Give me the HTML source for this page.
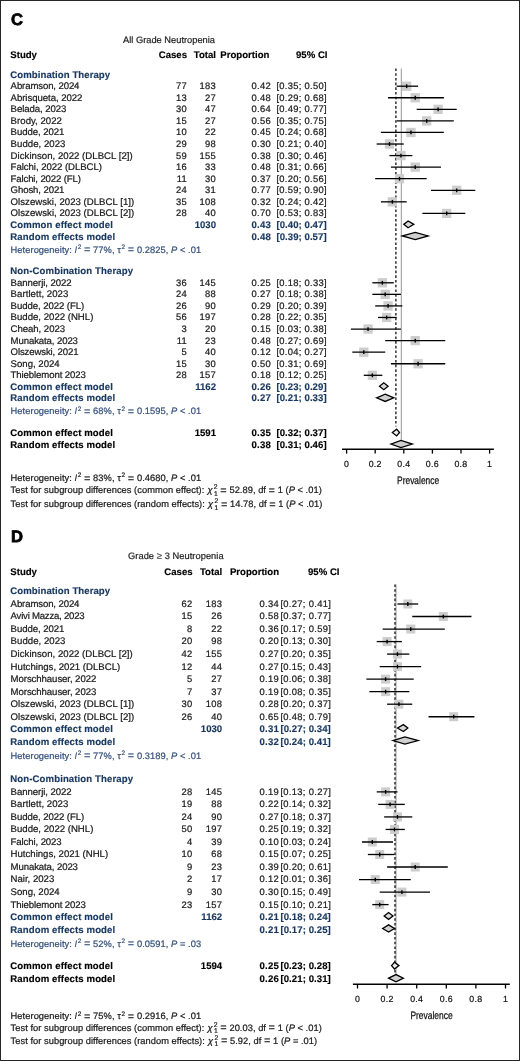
<!DOCTYPE html>
<html><head><meta charset="utf-8"><title>Forest plot</title>
<style>
html,body{margin:0;padding:0;background:#fff;}
body{width:520px;height:1061px;overflow:hidden;}
svg{display:block;font-family:"Liberation Sans", sans-serif;will-change:transform;text-rendering:geometricPrecision;}
</style></head><body>
<svg width="520" height="1061" viewBox="0 0 520 1061">
<rect x="0" y="0" width="520" height="1061" fill="#fff"/>
<text x="10.90" y="25.40" font-size="16.6" font-weight="bold" fill="#000" stroke="#000" stroke-width="0.75">C</text>
<text x="169" y="42.5" font-size="9.3" text-anchor="middle" fill="#1e1e1e" stroke="#1e1e1e" stroke-width="0.2">All Grade Neutropenia</text>
<text x="10.30" y="57.70" font-size="9.6" font-weight="bold" fill="#000" stroke="#000" stroke-width="0.15">Study</text>
<text x="187.00" y="57.70" font-size="9.6" font-weight="bold" text-anchor="end" fill="#000" stroke="#000" stroke-width="0.15">Cases</text>
<text x="216.00" y="57.70" font-size="9.6" font-weight="bold" text-anchor="end" fill="#000" stroke="#000" stroke-width="0.15">Total</text>
<text x="269.40" y="57.70" font-size="9.6" font-weight="bold" text-anchor="end" fill="#000" stroke="#000" stroke-width="0.15">Proportion</text>
<text x="327.50" y="57.70" font-size="9.6" font-weight="bold" text-anchor="end" fill="#000" stroke="#000" stroke-width="0.15">95% CI</text>
<line x1="401.30" y1="68.50" x2="401.30" y2="440.50" stroke="#8a8a8a" stroke-width="0.9"/>
<line x1="395.90" y1="68.50" x2="395.90" y2="426.50" stroke="#111" stroke-width="1.3" stroke-dasharray="2.6,2.1"/>
<text x="10.30" y="77.64" font-size="9.6" font-weight="bold" fill="#19385f" textLength="99.80" lengthAdjust="spacing" stroke="#19385f" stroke-width="0.15">Combination Therapy</text>
<text x="10.60" y="89.20" font-size="9.6" fill="#1a1a1a" textLength="68.85" lengthAdjust="spacing" stroke="#1a1a1a" stroke-width="0.22">Abramson, 2024</text>
<text x="187.00" y="89.20" font-size="9.4" text-anchor="end" fill="#1a1a1a" letter-spacing="0.3" stroke="#1a1a1a" stroke-width="0.22">77</text>
<text x="216.00" y="89.20" font-size="9.4" text-anchor="end" fill="#1a1a1a" letter-spacing="0.3" stroke="#1a1a1a" stroke-width="0.22">183</text>
<text x="271.00" y="89.20" font-size="9.4" text-anchor="end" fill="#1a1a1a" letter-spacing="0.3" stroke="#1a1a1a" stroke-width="0.22">0.42</text>
<text x="276.40" y="89.20" font-size="9.4" fill="#1a1a1a" textLength="50.2" lengthAdjust="spacing" stroke="#1a1a1a" stroke-width="0.22">[0.35; 0.50]</text>
<rect x="402.01" y="81.55" width="9.30" height="9.30" fill="#cdcdcd"/>
<line x1="396.65" y1="86.20" x2="418.10" y2="86.20" stroke="#000" stroke-width="1.3"/>
<line x1="406.66" y1="84.30" x2="406.66" y2="88.10" stroke="#000" stroke-width="1.4"/>
<text x="10.60" y="100.76" font-size="9.6" fill="#1a1a1a" textLength="71.75" lengthAdjust="spacing" stroke="#1a1a1a" stroke-width="0.22">Abrisqueta, 2022</text>
<text x="187.00" y="100.76" font-size="9.4" text-anchor="end" fill="#1a1a1a" letter-spacing="0.3" stroke="#1a1a1a" stroke-width="0.22">13</text>
<text x="216.00" y="100.76" font-size="9.4" text-anchor="end" fill="#1a1a1a" letter-spacing="0.3" stroke="#1a1a1a" stroke-width="0.22">27</text>
<text x="271.00" y="100.76" font-size="9.4" text-anchor="end" fill="#1a1a1a" letter-spacing="0.3" stroke="#1a1a1a" stroke-width="0.22">0.48</text>
<text x="276.40" y="100.76" font-size="9.4" fill="#1a1a1a" textLength="50.2" lengthAdjust="spacing" stroke="#1a1a1a" stroke-width="0.22">[0.29; 0.68]</text>
<rect x="410.59" y="93.11" width="9.30" height="9.30" fill="#cdcdcd"/>
<line x1="388.07" y1="97.76" x2="443.84" y2="97.76" stroke="#000" stroke-width="1.3"/>
<line x1="415.24" y1="95.86" x2="415.24" y2="99.66" stroke="#000" stroke-width="1.4"/>
<text x="10.60" y="112.33" font-size="9.6" fill="#1a1a1a" textLength="55.85" lengthAdjust="spacing" stroke="#1a1a1a" stroke-width="0.22">Belada, 2023</text>
<text x="187.00" y="112.33" font-size="9.4" text-anchor="end" fill="#1a1a1a" letter-spacing="0.3" stroke="#1a1a1a" stroke-width="0.22">30</text>
<text x="216.00" y="112.33" font-size="9.4" text-anchor="end" fill="#1a1a1a" letter-spacing="0.3" stroke="#1a1a1a" stroke-width="0.22">47</text>
<text x="271.00" y="112.33" font-size="9.4" text-anchor="end" fill="#1a1a1a" letter-spacing="0.3" stroke="#1a1a1a" stroke-width="0.22">0.64</text>
<text x="276.40" y="112.33" font-size="9.4" fill="#1a1a1a" textLength="50.2" lengthAdjust="spacing" stroke="#1a1a1a" stroke-width="0.22">[0.49; 0.77]</text>
<rect x="433.47" y="104.68" width="9.30" height="9.30" fill="#cdcdcd"/>
<line x1="416.67" y1="109.33" x2="456.71" y2="109.33" stroke="#000" stroke-width="1.3"/>
<line x1="438.12" y1="107.43" x2="438.12" y2="111.23" stroke="#000" stroke-width="1.4"/>
<text x="10.60" y="123.89" font-size="9.6" fill="#1a1a1a" textLength="51.35" lengthAdjust="spacing" stroke="#1a1a1a" stroke-width="0.22">Brody, 2022</text>
<text x="187.00" y="123.89" font-size="9.4" text-anchor="end" fill="#1a1a1a" letter-spacing="0.3" stroke="#1a1a1a" stroke-width="0.22">15</text>
<text x="216.00" y="123.89" font-size="9.4" text-anchor="end" fill="#1a1a1a" letter-spacing="0.3" stroke="#1a1a1a" stroke-width="0.22">27</text>
<text x="271.00" y="123.89" font-size="9.4" text-anchor="end" fill="#1a1a1a" letter-spacing="0.3" stroke="#1a1a1a" stroke-width="0.22">0.56</text>
<text x="276.40" y="123.89" font-size="9.4" fill="#1a1a1a" textLength="50.2" lengthAdjust="spacing" stroke="#1a1a1a" stroke-width="0.22">[0.35; 0.75]</text>
<rect x="422.03" y="116.24" width="9.30" height="9.30" fill="#cdcdcd"/>
<line x1="396.65" y1="120.89" x2="453.85" y2="120.89" stroke="#000" stroke-width="1.3"/>
<line x1="426.68" y1="118.99" x2="426.68" y2="122.79" stroke="#000" stroke-width="1.4"/>
<text x="10.60" y="135.46" font-size="9.6" fill="#1a1a1a" textLength="53.85" lengthAdjust="spacing" stroke="#1a1a1a" stroke-width="0.22">Budde, 2021</text>
<text x="187.00" y="135.46" font-size="9.4" text-anchor="end" fill="#1a1a1a" letter-spacing="0.3" stroke="#1a1a1a" stroke-width="0.22">10</text>
<text x="216.00" y="135.46" font-size="9.4" text-anchor="end" fill="#1a1a1a" letter-spacing="0.3" stroke="#1a1a1a" stroke-width="0.22">22</text>
<text x="271.00" y="135.46" font-size="9.4" text-anchor="end" fill="#1a1a1a" letter-spacing="0.3" stroke="#1a1a1a" stroke-width="0.22">0.45</text>
<text x="276.40" y="135.46" font-size="9.4" fill="#1a1a1a" textLength="50.2" lengthAdjust="spacing" stroke="#1a1a1a" stroke-width="0.22">[0.24; 0.68]</text>
<rect x="406.30" y="127.81" width="9.30" height="9.30" fill="#cdcdcd"/>
<line x1="380.92" y1="132.46" x2="443.84" y2="132.46" stroke="#000" stroke-width="1.3"/>
<line x1="410.95" y1="130.56" x2="410.95" y2="134.36" stroke="#000" stroke-width="1.4"/>
<text x="10.60" y="147.02" font-size="9.6" fill="#1a1a1a" textLength="54.85" lengthAdjust="spacing" stroke="#1a1a1a" stroke-width="0.22">Budde, 2023</text>
<text x="187.00" y="147.02" font-size="9.4" text-anchor="end" fill="#1a1a1a" letter-spacing="0.3" stroke="#1a1a1a" stroke-width="0.22">29</text>
<text x="216.00" y="147.02" font-size="9.4" text-anchor="end" fill="#1a1a1a" letter-spacing="0.3" stroke="#1a1a1a" stroke-width="0.22">98</text>
<text x="271.00" y="147.02" font-size="9.4" text-anchor="end" fill="#1a1a1a" letter-spacing="0.3" stroke="#1a1a1a" stroke-width="0.22">0.30</text>
<text x="276.40" y="147.02" font-size="9.4" fill="#1a1a1a" textLength="50.2" lengthAdjust="spacing" stroke="#1a1a1a" stroke-width="0.22">[0.21; 0.40]</text>
<rect x="384.85" y="139.37" width="9.30" height="9.30" fill="#cdcdcd"/>
<line x1="376.63" y1="144.02" x2="403.80" y2="144.02" stroke="#000" stroke-width="1.3"/>
<line x1="389.50" y1="142.12" x2="389.50" y2="145.92" stroke="#000" stroke-width="1.4"/>
<text x="10.60" y="158.58" font-size="9.6" fill="#1a1a1a" textLength="122.15" lengthAdjust="spacing" stroke="#1a1a1a" stroke-width="0.22">Dickinson, 2022 (DLBCL [2])</text>
<text x="187.00" y="158.58" font-size="9.4" text-anchor="end" fill="#1a1a1a" letter-spacing="0.3" stroke="#1a1a1a" stroke-width="0.22">59</text>
<text x="216.00" y="158.58" font-size="9.4" text-anchor="end" fill="#1a1a1a" letter-spacing="0.3" stroke="#1a1a1a" stroke-width="0.22">155</text>
<text x="271.00" y="158.58" font-size="9.4" text-anchor="end" fill="#1a1a1a" letter-spacing="0.3" stroke="#1a1a1a" stroke-width="0.22">0.38</text>
<text x="276.40" y="158.58" font-size="9.4" fill="#1a1a1a" textLength="50.2" lengthAdjust="spacing" stroke="#1a1a1a" stroke-width="0.22">[0.30; 0.46]</text>
<rect x="396.29" y="150.93" width="9.30" height="9.30" fill="#cdcdcd"/>
<line x1="389.50" y1="155.58" x2="412.38" y2="155.58" stroke="#000" stroke-width="1.3"/>
<line x1="400.94" y1="153.68" x2="400.94" y2="157.48" stroke="#000" stroke-width="1.4"/>
<text x="10.60" y="170.15" font-size="9.6" fill="#1a1a1a" textLength="91.35" lengthAdjust="spacing" stroke="#1a1a1a" stroke-width="0.22">Falchi, 2022 (DLBCL)</text>
<text x="187.00" y="170.15" font-size="9.4" text-anchor="end" fill="#1a1a1a" letter-spacing="0.3" stroke="#1a1a1a" stroke-width="0.22">16</text>
<text x="216.00" y="170.15" font-size="9.4" text-anchor="end" fill="#1a1a1a" letter-spacing="0.3" stroke="#1a1a1a" stroke-width="0.22">33</text>
<text x="271.00" y="170.15" font-size="9.4" text-anchor="end" fill="#1a1a1a" letter-spacing="0.3" stroke="#1a1a1a" stroke-width="0.22">0.48</text>
<text x="276.40" y="170.15" font-size="9.4" fill="#1a1a1a" textLength="50.2" lengthAdjust="spacing" stroke="#1a1a1a" stroke-width="0.22">[0.31; 0.66]</text>
<rect x="410.59" y="162.50" width="9.30" height="9.30" fill="#cdcdcd"/>
<line x1="390.93" y1="167.15" x2="440.98" y2="167.15" stroke="#000" stroke-width="1.3"/>
<line x1="415.24" y1="165.25" x2="415.24" y2="169.05" stroke="#000" stroke-width="1.4"/>
<text x="10.60" y="181.71" font-size="9.6" fill="#1a1a1a" textLength="70.25" lengthAdjust="spacing" stroke="#1a1a1a" stroke-width="0.22">Falchi, 2022 (FL)</text>
<text x="187.00" y="181.71" font-size="9.4" text-anchor="end" fill="#1a1a1a" letter-spacing="0.3" stroke="#1a1a1a" stroke-width="0.22">11</text>
<text x="216.00" y="181.71" font-size="9.4" text-anchor="end" fill="#1a1a1a" letter-spacing="0.3" stroke="#1a1a1a" stroke-width="0.22">30</text>
<text x="271.00" y="181.71" font-size="9.4" text-anchor="end" fill="#1a1a1a" letter-spacing="0.3" stroke="#1a1a1a" stroke-width="0.22">0.37</text>
<text x="276.40" y="181.71" font-size="9.4" fill="#1a1a1a" textLength="50.2" lengthAdjust="spacing" stroke="#1a1a1a" stroke-width="0.22">[0.20; 0.56]</text>
<rect x="394.86" y="174.06" width="9.30" height="9.30" fill="#cdcdcd"/>
<line x1="375.20" y1="178.71" x2="426.68" y2="178.71" stroke="#000" stroke-width="1.3"/>
<line x1="399.51" y1="176.81" x2="399.51" y2="180.61" stroke="#000" stroke-width="1.4"/>
<text x="10.60" y="193.28" font-size="9.6" fill="#1a1a1a" textLength="53.85" lengthAdjust="spacing" stroke="#1a1a1a" stroke-width="0.22">Ghosh, 2021</text>
<text x="187.00" y="193.28" font-size="9.4" text-anchor="end" fill="#1a1a1a" letter-spacing="0.3" stroke="#1a1a1a" stroke-width="0.22">24</text>
<text x="216.00" y="193.28" font-size="9.4" text-anchor="end" fill="#1a1a1a" letter-spacing="0.3" stroke="#1a1a1a" stroke-width="0.22">31</text>
<text x="271.00" y="193.28" font-size="9.4" text-anchor="end" fill="#1a1a1a" letter-spacing="0.3" stroke="#1a1a1a" stroke-width="0.22">0.77</text>
<text x="276.40" y="193.28" font-size="9.4" fill="#1a1a1a" textLength="50.2" lengthAdjust="spacing" stroke="#1a1a1a" stroke-width="0.22">[0.59; 0.90]</text>
<rect x="452.06" y="185.63" width="9.30" height="9.30" fill="#cdcdcd"/>
<line x1="430.97" y1="190.28" x2="475.30" y2="190.28" stroke="#000" stroke-width="1.3"/>
<line x1="456.71" y1="188.38" x2="456.71" y2="192.18" stroke="#000" stroke-width="1.4"/>
<text x="10.60" y="204.84" font-size="9.6" fill="#1a1a1a" textLength="123.55" lengthAdjust="spacing" stroke="#1a1a1a" stroke-width="0.22">Olszewski, 2023 (DLBCL [1])</text>
<text x="187.00" y="204.84" font-size="9.4" text-anchor="end" fill="#1a1a1a" letter-spacing="0.3" stroke="#1a1a1a" stroke-width="0.22">35</text>
<text x="216.00" y="204.84" font-size="9.4" text-anchor="end" fill="#1a1a1a" letter-spacing="0.3" stroke="#1a1a1a" stroke-width="0.22">108</text>
<text x="271.00" y="204.84" font-size="9.4" text-anchor="end" fill="#1a1a1a" letter-spacing="0.3" stroke="#1a1a1a" stroke-width="0.22">0.32</text>
<text x="276.40" y="204.84" font-size="9.4" fill="#1a1a1a" textLength="50.2" lengthAdjust="spacing" stroke="#1a1a1a" stroke-width="0.22">[0.24; 0.42]</text>
<rect x="387.71" y="197.19" width="9.30" height="9.30" fill="#cdcdcd"/>
<line x1="380.92" y1="201.84" x2="406.66" y2="201.84" stroke="#000" stroke-width="1.3"/>
<line x1="392.36" y1="199.94" x2="392.36" y2="203.74" stroke="#000" stroke-width="1.4"/>
<text x="10.60" y="216.40" font-size="9.6" fill="#1a1a1a" textLength="123.65" lengthAdjust="spacing" stroke="#1a1a1a" stroke-width="0.22">Olszewski, 2023 (DLBCL [2])</text>
<text x="187.00" y="216.40" font-size="9.4" text-anchor="end" fill="#1a1a1a" letter-spacing="0.3" stroke="#1a1a1a" stroke-width="0.22">28</text>
<text x="216.00" y="216.40" font-size="9.4" text-anchor="end" fill="#1a1a1a" letter-spacing="0.3" stroke="#1a1a1a" stroke-width="0.22">40</text>
<text x="271.00" y="216.40" font-size="9.4" text-anchor="end" fill="#1a1a1a" letter-spacing="0.3" stroke="#1a1a1a" stroke-width="0.22">0.70</text>
<text x="276.40" y="216.40" font-size="9.4" fill="#1a1a1a" textLength="50.2" lengthAdjust="spacing" stroke="#1a1a1a" stroke-width="0.22">[0.53; 0.83]</text>
<rect x="442.05" y="208.75" width="9.30" height="9.30" fill="#cdcdcd"/>
<line x1="422.39" y1="213.40" x2="465.29" y2="213.40" stroke="#000" stroke-width="1.3"/>
<line x1="446.70" y1="211.50" x2="446.70" y2="215.30" stroke="#000" stroke-width="1.4"/>
<text x="10.30" y="227.97" font-size="9.6" font-weight="bold" fill="#19385f" textLength="102.60" lengthAdjust="spacing" stroke="#19385f" stroke-width="0.15">Common effect model</text>
<text x="216.00" y="227.97" font-size="9.6" font-weight="bold" text-anchor="end" fill="#19385f" stroke="#19385f" stroke-width="0.15">1030</text>
<text x="271.00" y="227.97" font-size="9.6" font-weight="bold" text-anchor="end" fill="#19385f" letter-spacing="0.2" stroke="#19385f" stroke-width="0.15">0.43</text>
<text x="276.40" y="227.97" font-size="9.6" font-weight="bold" fill="#19385f" textLength="50.2" lengthAdjust="spacing" stroke="#19385f" stroke-width="0.15">[0.40; 0.47]</text>
<text x="10.30" y="239.53" font-size="9.6" font-weight="bold" fill="#19385f" textLength="104.90" lengthAdjust="spacing" stroke="#19385f" stroke-width="0.15">Random effects model</text>
<text x="271.00" y="239.53" font-size="9.6" font-weight="bold" text-anchor="end" fill="#19385f" letter-spacing="0.2" stroke="#19385f" stroke-width="0.15">0.48</text>
<text x="276.40" y="239.53" font-size="9.6" font-weight="bold" fill="#19385f" textLength="50.2" lengthAdjust="spacing" stroke="#19385f" stroke-width="0.15">[0.39; 0.57]</text>
<text x="10.60" y="252.60" font-size="9.3" fill="#36527a" letter-spacing="0.06" stroke="#36527a" stroke-width="0.22">Heterogeneity: <tspan font-style="italic" stroke-width="0.1">I</tspan><tspan font-size="6.4" dx="0.5" dy="-3.9">2</tspan><tspan dy="3.9"> </tspan><tspan font-size="11.0" dy="0.5" stroke-width="0.05">=</tspan><tspan dy="-0.5"> 77%, τ</tspan><tspan font-size="6.4" dx="0.6" dy="-3.9">2</tspan><tspan dy="3.9"> </tspan><tspan font-size="11.0" dy="0.5" stroke-width="0.05">=</tspan><tspan dy="-0.5"> 0.2825, </tspan><tspan font-style="italic">P</tspan> &lt; .01</text>
<polygon points="403.80,224.37 408.09,220.97 413.81,224.37 408.09,227.77" fill="#d8d8d8" stroke="#000" stroke-width="1.3" stroke-linejoin="miter"/>
<polygon points="402.37,235.93 415.24,232.33 428.11,235.93 415.24,239.53" fill="#d0d0d0" stroke="#000" stroke-width="1.3" stroke-linejoin="miter"/>
<text x="10.30" y="274.22" font-size="9.6" font-weight="bold" fill="#19385f" textLength="122.70" lengthAdjust="spacing" stroke="#19385f" stroke-width="0.15">Non-Combination Therapy</text>
<text x="10.60" y="285.79" font-size="9.6" fill="#1a1a1a" textLength="61.05" lengthAdjust="spacing" stroke="#1a1a1a" stroke-width="0.22">Bannerji, 2022</text>
<text x="187.00" y="285.79" font-size="9.4" text-anchor="end" fill="#1a1a1a" letter-spacing="0.3" stroke="#1a1a1a" stroke-width="0.22">36</text>
<text x="216.00" y="285.79" font-size="9.4" text-anchor="end" fill="#1a1a1a" letter-spacing="0.3" stroke="#1a1a1a" stroke-width="0.22">145</text>
<text x="271.00" y="285.79" font-size="9.4" text-anchor="end" fill="#1a1a1a" letter-spacing="0.3" stroke="#1a1a1a" stroke-width="0.22">0.25</text>
<text x="276.40" y="285.79" font-size="9.4" fill="#1a1a1a" textLength="50.2" lengthAdjust="spacing" stroke="#1a1a1a" stroke-width="0.22">[0.18; 0.33]</text>
<rect x="377.70" y="278.14" width="9.30" height="9.30" fill="#cdcdcd"/>
<line x1="372.34" y1="282.79" x2="393.79" y2="282.79" stroke="#000" stroke-width="1.3"/>
<line x1="382.35" y1="280.89" x2="382.35" y2="284.69" stroke="#000" stroke-width="1.4"/>
<text x="10.60" y="297.35" font-size="9.6" fill="#1a1a1a" textLength="57.75" lengthAdjust="spacing" stroke="#1a1a1a" stroke-width="0.22">Bartlett, 2023</text>
<text x="187.00" y="297.35" font-size="9.4" text-anchor="end" fill="#1a1a1a" letter-spacing="0.3" stroke="#1a1a1a" stroke-width="0.22">24</text>
<text x="216.00" y="297.35" font-size="9.4" text-anchor="end" fill="#1a1a1a" letter-spacing="0.3" stroke="#1a1a1a" stroke-width="0.22">88</text>
<text x="271.00" y="297.35" font-size="9.4" text-anchor="end" fill="#1a1a1a" letter-spacing="0.3" stroke="#1a1a1a" stroke-width="0.22">0.27</text>
<text x="276.40" y="297.35" font-size="9.4" fill="#1a1a1a" textLength="50.2" lengthAdjust="spacing" stroke="#1a1a1a" stroke-width="0.22">[0.18; 0.38]</text>
<rect x="380.56" y="289.70" width="9.30" height="9.30" fill="#cdcdcd"/>
<line x1="372.34" y1="294.35" x2="400.94" y2="294.35" stroke="#000" stroke-width="1.3"/>
<line x1="385.21" y1="292.45" x2="385.21" y2="296.25" stroke="#000" stroke-width="1.4"/>
<text x="10.60" y="308.92" font-size="9.6" fill="#1a1a1a" textLength="73.65" lengthAdjust="spacing" stroke="#1a1a1a" stroke-width="0.22">Budde, 2022 (FL)</text>
<text x="187.00" y="308.92" font-size="9.4" text-anchor="end" fill="#1a1a1a" letter-spacing="0.3" stroke="#1a1a1a" stroke-width="0.22">26</text>
<text x="216.00" y="308.92" font-size="9.4" text-anchor="end" fill="#1a1a1a" letter-spacing="0.3" stroke="#1a1a1a" stroke-width="0.22">90</text>
<text x="271.00" y="308.92" font-size="9.4" text-anchor="end" fill="#1a1a1a" letter-spacing="0.3" stroke="#1a1a1a" stroke-width="0.22">0.29</text>
<text x="276.40" y="308.92" font-size="9.4" fill="#1a1a1a" textLength="50.2" lengthAdjust="spacing" stroke="#1a1a1a" stroke-width="0.22">[0.20; 0.39]</text>
<rect x="383.42" y="301.27" width="9.30" height="9.30" fill="#cdcdcd"/>
<line x1="375.20" y1="305.92" x2="402.37" y2="305.92" stroke="#000" stroke-width="1.3"/>
<line x1="388.07" y1="304.02" x2="388.07" y2="307.82" stroke="#000" stroke-width="1.4"/>
<text x="10.60" y="320.48" font-size="9.6" fill="#1a1a1a" textLength="82.75" lengthAdjust="spacing" stroke="#1a1a1a" stroke-width="0.22">Budde, 2022 (NHL)</text>
<text x="187.00" y="320.48" font-size="9.4" text-anchor="end" fill="#1a1a1a" letter-spacing="0.3" stroke="#1a1a1a" stroke-width="0.22">56</text>
<text x="216.00" y="320.48" font-size="9.4" text-anchor="end" fill="#1a1a1a" letter-spacing="0.3" stroke="#1a1a1a" stroke-width="0.22">197</text>
<text x="271.00" y="320.48" font-size="9.4" text-anchor="end" fill="#1a1a1a" letter-spacing="0.3" stroke="#1a1a1a" stroke-width="0.22">0.28</text>
<text x="276.40" y="320.48" font-size="9.4" fill="#1a1a1a" textLength="50.2" lengthAdjust="spacing" stroke="#1a1a1a" stroke-width="0.22">[0.22; 0.35]</text>
<rect x="381.99" y="312.83" width="9.30" height="9.30" fill="#cdcdcd"/>
<line x1="378.06" y1="317.48" x2="396.65" y2="317.48" stroke="#000" stroke-width="1.3"/>
<line x1="386.64" y1="315.58" x2="386.64" y2="319.38" stroke="#000" stroke-width="1.4"/>
<text x="10.60" y="332.04" font-size="9.6" fill="#1a1a1a" textLength="54.45" lengthAdjust="spacing" stroke="#1a1a1a" stroke-width="0.22">Cheah, 2023</text>
<text x="187.00" y="332.04" font-size="9.4" text-anchor="end" fill="#1a1a1a" letter-spacing="0.3" stroke="#1a1a1a" stroke-width="0.22">3</text>
<text x="216.00" y="332.04" font-size="9.4" text-anchor="end" fill="#1a1a1a" letter-spacing="0.3" stroke="#1a1a1a" stroke-width="0.22">20</text>
<text x="271.00" y="332.04" font-size="9.4" text-anchor="end" fill="#1a1a1a" letter-spacing="0.3" stroke="#1a1a1a" stroke-width="0.22">0.15</text>
<text x="276.40" y="332.04" font-size="9.4" fill="#1a1a1a" textLength="50.2" lengthAdjust="spacing" stroke="#1a1a1a" stroke-width="0.22">[0.03; 0.38]</text>
<rect x="363.40" y="324.39" width="9.30" height="9.30" fill="#cdcdcd"/>
<line x1="350.89" y1="329.04" x2="400.94" y2="329.04" stroke="#000" stroke-width="1.3"/>
<line x1="368.05" y1="327.14" x2="368.05" y2="330.94" stroke="#000" stroke-width="1.4"/>
<text x="10.60" y="343.61" font-size="9.6" fill="#1a1a1a" textLength="67.35" lengthAdjust="spacing" stroke="#1a1a1a" stroke-width="0.22">Munakata, 2023</text>
<text x="187.00" y="343.61" font-size="9.4" text-anchor="end" fill="#1a1a1a" letter-spacing="0.3" stroke="#1a1a1a" stroke-width="0.22">11</text>
<text x="216.00" y="343.61" font-size="9.4" text-anchor="end" fill="#1a1a1a" letter-spacing="0.3" stroke="#1a1a1a" stroke-width="0.22">23</text>
<text x="271.00" y="343.61" font-size="9.4" text-anchor="end" fill="#1a1a1a" letter-spacing="0.3" stroke="#1a1a1a" stroke-width="0.22">0.48</text>
<text x="276.40" y="343.61" font-size="9.4" fill="#1a1a1a" textLength="50.2" lengthAdjust="spacing" stroke="#1a1a1a" stroke-width="0.22">[0.27; 0.69]</text>
<rect x="410.59" y="335.96" width="9.30" height="9.30" fill="#cdcdcd"/>
<line x1="385.21" y1="340.61" x2="445.27" y2="340.61" stroke="#000" stroke-width="1.3"/>
<line x1="415.24" y1="338.71" x2="415.24" y2="342.51" stroke="#000" stroke-width="1.4"/>
<text x="10.60" y="355.17" font-size="9.6" fill="#1a1a1a" textLength="67.95" lengthAdjust="spacing" stroke="#1a1a1a" stroke-width="0.22">Olszewski, 2021</text>
<text x="187.00" y="355.17" font-size="9.4" text-anchor="end" fill="#1a1a1a" letter-spacing="0.3" stroke="#1a1a1a" stroke-width="0.22">5</text>
<text x="216.00" y="355.17" font-size="9.4" text-anchor="end" fill="#1a1a1a" letter-spacing="0.3" stroke="#1a1a1a" stroke-width="0.22">40</text>
<text x="271.00" y="355.17" font-size="9.4" text-anchor="end" fill="#1a1a1a" letter-spacing="0.3" stroke="#1a1a1a" stroke-width="0.22">0.12</text>
<text x="276.40" y="355.17" font-size="9.4" fill="#1a1a1a" textLength="50.2" lengthAdjust="spacing" stroke="#1a1a1a" stroke-width="0.22">[0.04; 0.27]</text>
<rect x="359.11" y="347.52" width="9.30" height="9.30" fill="#cdcdcd"/>
<line x1="352.32" y1="352.17" x2="385.21" y2="352.17" stroke="#000" stroke-width="1.3"/>
<line x1="363.76" y1="350.27" x2="363.76" y2="354.07" stroke="#000" stroke-width="1.4"/>
<text x="10.60" y="366.74" font-size="9.6" fill="#1a1a1a" textLength="49.05" lengthAdjust="spacing" stroke="#1a1a1a" stroke-width="0.22">Song, 2024</text>
<text x="187.00" y="366.74" font-size="9.4" text-anchor="end" fill="#1a1a1a" letter-spacing="0.3" stroke="#1a1a1a" stroke-width="0.22">15</text>
<text x="216.00" y="366.74" font-size="9.4" text-anchor="end" fill="#1a1a1a" letter-spacing="0.3" stroke="#1a1a1a" stroke-width="0.22">30</text>
<text x="271.00" y="366.74" font-size="9.4" text-anchor="end" fill="#1a1a1a" letter-spacing="0.3" stroke="#1a1a1a" stroke-width="0.22">0.50</text>
<text x="276.40" y="366.74" font-size="9.4" fill="#1a1a1a" textLength="50.2" lengthAdjust="spacing" stroke="#1a1a1a" stroke-width="0.22">[0.31; 0.69]</text>
<rect x="413.45" y="359.09" width="9.30" height="9.30" fill="#cdcdcd"/>
<line x1="390.93" y1="363.74" x2="445.27" y2="363.74" stroke="#000" stroke-width="1.3"/>
<line x1="418.10" y1="361.84" x2="418.10" y2="365.64" stroke="#000" stroke-width="1.4"/>
<text x="10.60" y="378.30" font-size="9.6" fill="#1a1a1a" textLength="75.25" lengthAdjust="spacing" stroke="#1a1a1a" stroke-width="0.22">Thieblemont 2023</text>
<text x="187.00" y="378.30" font-size="9.4" text-anchor="end" fill="#1a1a1a" letter-spacing="0.3" stroke="#1a1a1a" stroke-width="0.22">28</text>
<text x="216.00" y="378.30" font-size="9.4" text-anchor="end" fill="#1a1a1a" letter-spacing="0.3" stroke="#1a1a1a" stroke-width="0.22">157</text>
<text x="271.00" y="378.30" font-size="9.4" text-anchor="end" fill="#1a1a1a" letter-spacing="0.3" stroke="#1a1a1a" stroke-width="0.22">0.18</text>
<text x="276.40" y="378.30" font-size="9.4" fill="#1a1a1a" textLength="50.2" lengthAdjust="spacing" stroke="#1a1a1a" stroke-width="0.22">[0.12; 0.25]</text>
<rect x="367.69" y="370.65" width="9.30" height="9.30" fill="#cdcdcd"/>
<line x1="363.76" y1="375.30" x2="382.35" y2="375.30" stroke="#000" stroke-width="1.3"/>
<line x1="372.34" y1="373.40" x2="372.34" y2="377.20" stroke="#000" stroke-width="1.4"/>
<text x="10.30" y="389.86" font-size="9.6" font-weight="bold" fill="#19385f" textLength="102.60" lengthAdjust="spacing" stroke="#19385f" stroke-width="0.15">Common effect model</text>
<text x="216.00" y="389.86" font-size="9.6" font-weight="bold" text-anchor="end" fill="#19385f" stroke="#19385f" stroke-width="0.15">1162</text>
<text x="271.00" y="389.86" font-size="9.6" font-weight="bold" text-anchor="end" fill="#19385f" letter-spacing="0.2" stroke="#19385f" stroke-width="0.15">0.26</text>
<text x="276.40" y="389.86" font-size="9.6" font-weight="bold" fill="#19385f" textLength="50.2" lengthAdjust="spacing" stroke="#19385f" stroke-width="0.15">[0.23; 0.29]</text>
<text x="10.30" y="401.43" font-size="9.6" font-weight="bold" fill="#19385f" textLength="104.90" lengthAdjust="spacing" stroke="#19385f" stroke-width="0.15">Random effects model</text>
<text x="271.00" y="401.43" font-size="9.6" font-weight="bold" text-anchor="end" fill="#19385f" letter-spacing="0.2" stroke="#19385f" stroke-width="0.15">0.27</text>
<text x="276.40" y="401.43" font-size="9.6" font-weight="bold" fill="#19385f" textLength="50.2" lengthAdjust="spacing" stroke="#19385f" stroke-width="0.15">[0.21; 0.33]</text>
<text x="10.60" y="414.49" font-size="9.3" fill="#36527a" letter-spacing="0.06" stroke="#36527a" stroke-width="0.22">Heterogeneity: <tspan font-style="italic" stroke-width="0.1">I</tspan><tspan font-size="6.4" dx="0.5" dy="-3.9">2</tspan><tspan dy="3.9"> </tspan><tspan font-size="11.0" dy="0.5" stroke-width="0.05">=</tspan><tspan dy="-0.5"> 68%, τ</tspan><tspan font-size="6.4" dx="0.6" dy="-3.9">2</tspan><tspan dy="3.9"> </tspan><tspan font-size="11.0" dy="0.5" stroke-width="0.05">=</tspan><tspan dy="-0.5"> 0.1595, </tspan><tspan font-style="italic">P</tspan> &lt; .01</text>
<polygon points="379.49,386.26 383.78,382.86 388.07,386.26 383.78,389.66" fill="#d8d8d8" stroke="#000" stroke-width="1.3" stroke-linejoin="miter"/>
<polygon points="376.63,397.83 385.21,394.23 393.79,397.83 385.21,401.43" fill="#d0d0d0" stroke="#000" stroke-width="1.3" stroke-linejoin="miter"/>
<text x="10.30" y="436.12" font-size="9.6" font-weight="bold" fill="#000" textLength="102.60" lengthAdjust="spacing" stroke="#000" stroke-width="0.15">Common effect model</text>
<text x="216.00" y="436.12" font-size="9.6" font-weight="bold" text-anchor="end" fill="#000" stroke="#000" stroke-width="0.15">1591</text>
<text x="271.00" y="436.12" font-size="9.6" font-weight="bold" text-anchor="end" fill="#000" letter-spacing="0.2" stroke="#000" stroke-width="0.15">0.35</text>
<text x="276.40" y="436.12" font-size="9.6" font-weight="bold" fill="#000" textLength="50.2" lengthAdjust="spacing" stroke="#000" stroke-width="0.15">[0.32; 0.37]</text>
<text x="10.30" y="447.68" font-size="9.6" font-weight="bold" fill="#000" textLength="104.90" lengthAdjust="spacing" stroke="#000" stroke-width="0.15">Random effects model</text>
<text x="271.00" y="447.68" font-size="9.6" font-weight="bold" text-anchor="end" fill="#000" letter-spacing="0.2" stroke="#000" stroke-width="0.15">0.38</text>
<text x="276.40" y="447.68" font-size="9.6" font-weight="bold" fill="#000" textLength="50.2" lengthAdjust="spacing" stroke="#000" stroke-width="0.15">[0.31; 0.46]</text>
<polygon points="392.36,432.52 396.65,429.12 399.51,432.52 396.65,435.92" fill="#ececec" stroke="#000" stroke-width="1.3" stroke-linejoin="miter"/>
<polygon points="390.93,444.08 400.94,440.48 412.38,444.08 400.94,447.68" fill="#d0d0d0" stroke="#000" stroke-width="1.3" stroke-linejoin="miter"/>
<line x1="342.00" y1="449.30" x2="493.90" y2="449.30" stroke="#000" stroke-width="1.5"/>
<line x1="346.60" y1="449.30" x2="346.60" y2="453.60" stroke="#000" stroke-width="1.3"/>
<text x="346.60" y="467.00" font-size="8.8" text-anchor="middle" fill="#111" letter-spacing="0.3" stroke="#111" stroke-width="0.2">0</text>
<line x1="375.20" y1="449.30" x2="375.20" y2="453.60" stroke="#000" stroke-width="1.3"/>
<text x="375.20" y="467.00" font-size="8.8" text-anchor="middle" fill="#111" letter-spacing="0.3" stroke="#111" stroke-width="0.2">0.2</text>
<line x1="403.80" y1="449.30" x2="403.80" y2="453.60" stroke="#000" stroke-width="1.3"/>
<text x="403.80" y="467.00" font-size="8.8" text-anchor="middle" fill="#111" letter-spacing="0.3" stroke="#111" stroke-width="0.2">0.4</text>
<line x1="432.40" y1="449.30" x2="432.40" y2="453.60" stroke="#000" stroke-width="1.3"/>
<text x="432.40" y="467.00" font-size="8.8" text-anchor="middle" fill="#111" letter-spacing="0.3" stroke="#111" stroke-width="0.2">0.6</text>
<line x1="461.00" y1="449.30" x2="461.00" y2="453.60" stroke="#000" stroke-width="1.3"/>
<text x="461.00" y="467.00" font-size="8.8" text-anchor="middle" fill="#111" letter-spacing="0.3" stroke="#111" stroke-width="0.2">0.8</text>
<line x1="489.60" y1="449.30" x2="489.60" y2="453.60" stroke="#000" stroke-width="1.3"/>
<text x="489.60" y="467.00" font-size="8.8" text-anchor="middle" fill="#111" letter-spacing="0.3" stroke="#111" stroke-width="0.2">1</text>
<text transform="translate(418.10,484.30) scale(0.78,1)" x="0" y="0" font-size="10.8" stroke="#111" stroke-width="0.25" text-anchor="middle" fill="#111">Prevalence</text>
<text x="10.60" y="481.10" font-size="9.3" fill="#1a1a1a" letter-spacing="0.06" stroke="#1a1a1a" stroke-width="0.22">Heterogeneity: <tspan font-style="italic" stroke-width="0.1">I</tspan><tspan font-size="6.4" dx="0.5" dy="-3.9">2</tspan><tspan dy="3.9"> </tspan><tspan font-size="11.0" dy="0.5" stroke-width="0.05">=</tspan><tspan dy="-0.5"> 83%, τ</tspan><tspan font-size="6.4" dx="0.6" dy="-3.9">2</tspan><tspan dy="3.9"> </tspan><tspan font-size="11.0" dy="0.5" stroke-width="0.05">=</tspan><tspan dy="-0.5"> 0.4680, </tspan><tspan font-style="italic">P</tspan> &lt; .01</text>
<text x="10.60" y="493.10" font-size="9.3" fill="#1a1a1a" letter-spacing="0.04" stroke="#1a1a1a" stroke-width="0.22">Test for subgroup differences (common effect):<tspan dx="3.2" font-style="italic">χ</tspan><tspan font-size="6.8" dx="1.2" dy="-4.2">2</tspan><tspan font-size="6.8" dx="-3.8" dy="6.6">1</tspan><tspan dy="-2.4"> </tspan><tspan font-size="11.0" dy="0.5" stroke-width="0.05">=</tspan><tspan dy="-0.5"> 52.89, df </tspan><tspan font-size="11.0" dy="0.5" stroke-width="0.05">=</tspan><tspan dy="-0.5"> 1 (</tspan><tspan font-style="italic">P</tspan> &lt; .01)</text>
<text x="10.60" y="507.10" font-size="9.3" fill="#1a1a1a" letter-spacing="0.04" stroke="#1a1a1a" stroke-width="0.22">Test for subgroup differences (random effects):<tspan dx="3.2" font-style="italic">χ</tspan><tspan font-size="6.8" dx="1.2" dy="-4.2">2</tspan><tspan font-size="6.8" dx="-3.8" dy="6.6">1</tspan><tspan dy="-2.4"> </tspan><tspan font-size="11.0" dy="0.5" stroke-width="0.05">=</tspan><tspan dy="-0.5"> 14.78, df </tspan><tspan font-size="11.0" dy="0.5" stroke-width="0.05">=</tspan><tspan dy="-0.5"> 1 (</tspan><tspan font-style="italic">P</tspan> &lt; .01)</text>
<text x="10.90" y="542.00" font-size="16.6" font-weight="bold" fill="#000" stroke="#000" stroke-width="0.75">D</text>
<text x="128" y="559.3" font-size="9.3" fill="#1e1e1e" stroke="#1e1e1e" stroke-width="0.2" textLength="95.6" lengthAdjust="spacing">Grade <tspan fill="#555" stroke="#555" font-size="9.6">≥</tspan> 3 Neutropenia</text>
<text x="10.30" y="575.00" font-size="9.6" font-weight="bold" fill="#000" stroke="#000" stroke-width="0.15">Study</text>
<text x="192.60" y="575.00" font-size="9.6" font-weight="bold" text-anchor="end" fill="#000" stroke="#000" stroke-width="0.15">Cases</text>
<text x="222.20" y="575.00" font-size="9.6" font-weight="bold" text-anchor="end" fill="#000" stroke="#000" stroke-width="0.15">Total</text>
<text x="279.00" y="575.00" font-size="9.6" font-weight="bold" text-anchor="end" fill="#000" stroke="#000" stroke-width="0.15">Proportion</text>
<text x="339.50" y="575.00" font-size="9.6" font-weight="bold" text-anchor="end" fill="#000" stroke="#000" stroke-width="0.15">95% CI</text>
<line x1="396.00" y1="584.50" x2="396.00" y2="974.00" stroke="#8a8a8a" stroke-width="0.9"/>
<line x1="395.00" y1="584.50" x2="395.00" y2="974.00" stroke="#111" stroke-width="1.3" stroke-dasharray="2.6,2.1"/>
<text x="10.30" y="594.38" font-size="9.6" font-weight="bold" fill="#19385f" textLength="99.80" lengthAdjust="spacing" stroke="#19385f" stroke-width="0.15">Combination Therapy</text>
<text x="10.60" y="606.90" font-size="9.6" fill="#1a1a1a" textLength="68.85" lengthAdjust="spacing" stroke="#1a1a1a" stroke-width="0.22">Abramson, 2024</text>
<text x="192.60" y="606.90" font-size="9.4" text-anchor="end" fill="#1a1a1a" letter-spacing="0.3" stroke="#1a1a1a" stroke-width="0.22">62</text>
<text x="222.20" y="606.90" font-size="9.4" text-anchor="end" fill="#1a1a1a" letter-spacing="0.3" stroke="#1a1a1a" stroke-width="0.22">183</text>
<text x="279.00" y="606.90" font-size="9.4" text-anchor="end" fill="#1a1a1a" letter-spacing="0.3" stroke="#1a1a1a" stroke-width="0.22">0.34</text>
<text x="280.40" y="606.90" font-size="9.4" fill="#1a1a1a" textLength="50.4" lengthAdjust="spacing" stroke="#1a1a1a" stroke-width="0.22">[0.27; 0.41]</text>
<rect x="403.32" y="599.50" width="9.00" height="9.00" fill="#cdcdcd"/>
<line x1="397.46" y1="604.00" x2="418.18" y2="604.00" stroke="#000" stroke-width="1.3"/>
<line x1="407.82" y1="602.10" x2="407.82" y2="605.90" stroke="#000" stroke-width="1.4"/>
<text x="10.60" y="619.42" font-size="9.6" fill="#1a1a1a" textLength="74.05" lengthAdjust="spacing" stroke="#1a1a1a" stroke-width="0.22">Avivi Mazza, 2023</text>
<text x="192.60" y="619.42" font-size="9.4" text-anchor="end" fill="#1a1a1a" letter-spacing="0.3" stroke="#1a1a1a" stroke-width="0.22">15</text>
<text x="222.20" y="619.42" font-size="9.4" text-anchor="end" fill="#1a1a1a" letter-spacing="0.3" stroke="#1a1a1a" stroke-width="0.22">26</text>
<text x="279.00" y="619.42" font-size="9.4" text-anchor="end" fill="#1a1a1a" letter-spacing="0.3" stroke="#1a1a1a" stroke-width="0.22">0.58</text>
<text x="280.40" y="619.42" font-size="9.4" fill="#1a1a1a" textLength="50.4" lengthAdjust="spacing" stroke="#1a1a1a" stroke-width="0.22">[0.37; 0.77]</text>
<rect x="438.84" y="612.02" width="9.00" height="9.00" fill="#cdcdcd"/>
<line x1="412.26" y1="616.52" x2="471.46" y2="616.52" stroke="#000" stroke-width="1.3"/>
<line x1="443.34" y1="614.62" x2="443.34" y2="618.42" stroke="#000" stroke-width="1.4"/>
<text x="10.60" y="631.95" font-size="9.6" fill="#1a1a1a" textLength="53.85" lengthAdjust="spacing" stroke="#1a1a1a" stroke-width="0.22">Budde, 2021</text>
<text x="192.60" y="631.95" font-size="9.4" text-anchor="end" fill="#1a1a1a" letter-spacing="0.3" stroke="#1a1a1a" stroke-width="0.22">8</text>
<text x="222.20" y="631.95" font-size="9.4" text-anchor="end" fill="#1a1a1a" letter-spacing="0.3" stroke="#1a1a1a" stroke-width="0.22">22</text>
<text x="279.00" y="631.95" font-size="9.4" text-anchor="end" fill="#1a1a1a" letter-spacing="0.3" stroke="#1a1a1a" stroke-width="0.22">0.36</text>
<text x="280.40" y="631.95" font-size="9.4" fill="#1a1a1a" textLength="50.4" lengthAdjust="spacing" stroke="#1a1a1a" stroke-width="0.22">[0.17; 0.59]</text>
<rect x="406.28" y="624.55" width="9.00" height="9.00" fill="#cdcdcd"/>
<line x1="382.66" y1="629.05" x2="444.82" y2="629.05" stroke="#000" stroke-width="1.3"/>
<line x1="410.78" y1="627.15" x2="410.78" y2="630.95" stroke="#000" stroke-width="1.4"/>
<text x="10.60" y="644.48" font-size="9.6" fill="#1a1a1a" textLength="54.85" lengthAdjust="spacing" stroke="#1a1a1a" stroke-width="0.22">Budde, 2023</text>
<text x="192.60" y="644.48" font-size="9.4" text-anchor="end" fill="#1a1a1a" letter-spacing="0.3" stroke="#1a1a1a" stroke-width="0.22">20</text>
<text x="222.20" y="644.48" font-size="9.4" text-anchor="end" fill="#1a1a1a" letter-spacing="0.3" stroke="#1a1a1a" stroke-width="0.22">98</text>
<text x="279.00" y="644.48" font-size="9.4" text-anchor="end" fill="#1a1a1a" letter-spacing="0.3" stroke="#1a1a1a" stroke-width="0.22">0.20</text>
<text x="280.40" y="644.48" font-size="9.4" fill="#1a1a1a" textLength="50.4" lengthAdjust="spacing" stroke="#1a1a1a" stroke-width="0.22">[0.13; 0.30]</text>
<rect x="382.60" y="637.08" width="9.00" height="9.00" fill="#cdcdcd"/>
<line x1="376.74" y1="641.58" x2="401.90" y2="641.58" stroke="#000" stroke-width="1.3"/>
<line x1="387.10" y1="639.68" x2="387.10" y2="643.48" stroke="#000" stroke-width="1.4"/>
<text x="10.60" y="657.00" font-size="9.6" fill="#1a1a1a" textLength="122.15" lengthAdjust="spacing" stroke="#1a1a1a" stroke-width="0.22">Dickinson, 2022 (DLBCL [2])</text>
<text x="192.60" y="657.00" font-size="9.4" text-anchor="end" fill="#1a1a1a" letter-spacing="0.3" stroke="#1a1a1a" stroke-width="0.22">42</text>
<text x="222.20" y="657.00" font-size="9.4" text-anchor="end" fill="#1a1a1a" letter-spacing="0.3" stroke="#1a1a1a" stroke-width="0.22">155</text>
<text x="279.00" y="657.00" font-size="9.4" text-anchor="end" fill="#1a1a1a" letter-spacing="0.3" stroke="#1a1a1a" stroke-width="0.22">0.27</text>
<text x="280.40" y="657.00" font-size="9.4" fill="#1a1a1a" textLength="50.4" lengthAdjust="spacing" stroke="#1a1a1a" stroke-width="0.22">[0.20; 0.35]</text>
<rect x="392.96" y="649.60" width="9.00" height="9.00" fill="#cdcdcd"/>
<line x1="387.10" y1="654.10" x2="409.30" y2="654.10" stroke="#000" stroke-width="1.3"/>
<line x1="397.46" y1="652.20" x2="397.46" y2="656.00" stroke="#000" stroke-width="1.4"/>
<text x="10.60" y="669.52" font-size="9.6" fill="#1a1a1a" textLength="109.65" lengthAdjust="spacing" stroke="#1a1a1a" stroke-width="0.22">Hutchings, 2021 (DLBCL)</text>
<text x="192.60" y="669.52" font-size="9.4" text-anchor="end" fill="#1a1a1a" letter-spacing="0.3" stroke="#1a1a1a" stroke-width="0.22">12</text>
<text x="222.20" y="669.52" font-size="9.4" text-anchor="end" fill="#1a1a1a" letter-spacing="0.3" stroke="#1a1a1a" stroke-width="0.22">44</text>
<text x="279.00" y="669.52" font-size="9.4" text-anchor="end" fill="#1a1a1a" letter-spacing="0.3" stroke="#1a1a1a" stroke-width="0.22">0.27</text>
<text x="280.40" y="669.52" font-size="9.4" fill="#1a1a1a" textLength="50.4" lengthAdjust="spacing" stroke="#1a1a1a" stroke-width="0.22">[0.15; 0.43]</text>
<rect x="392.96" y="662.12" width="9.00" height="9.00" fill="#cdcdcd"/>
<line x1="379.70" y1="666.62" x2="421.14" y2="666.62" stroke="#000" stroke-width="1.3"/>
<line x1="397.46" y1="664.73" x2="397.46" y2="668.52" stroke="#000" stroke-width="1.4"/>
<text x="10.60" y="682.05" font-size="9.6" fill="#1a1a1a" textLength="85.65" lengthAdjust="spacing" stroke="#1a1a1a" stroke-width="0.22">Morschhauser, 2022</text>
<text x="192.60" y="682.05" font-size="9.4" text-anchor="end" fill="#1a1a1a" letter-spacing="0.3" stroke="#1a1a1a" stroke-width="0.22">5</text>
<text x="222.20" y="682.05" font-size="9.4" text-anchor="end" fill="#1a1a1a" letter-spacing="0.3" stroke="#1a1a1a" stroke-width="0.22">27</text>
<text x="279.00" y="682.05" font-size="9.4" text-anchor="end" fill="#1a1a1a" letter-spacing="0.3" stroke="#1a1a1a" stroke-width="0.22">0.19</text>
<text x="280.40" y="682.05" font-size="9.4" fill="#1a1a1a" textLength="50.4" lengthAdjust="spacing" stroke="#1a1a1a" stroke-width="0.22">[0.06; 0.38]</text>
<rect x="381.12" y="674.65" width="9.00" height="9.00" fill="#cdcdcd"/>
<line x1="366.38" y1="679.15" x2="413.74" y2="679.15" stroke="#000" stroke-width="1.3"/>
<line x1="385.62" y1="677.25" x2="385.62" y2="681.05" stroke="#000" stroke-width="1.4"/>
<text x="10.60" y="694.57" font-size="9.6" fill="#1a1a1a" textLength="85.65" lengthAdjust="spacing" stroke="#1a1a1a" stroke-width="0.22">Morschhauser, 2023</text>
<text x="192.60" y="694.57" font-size="9.4" text-anchor="end" fill="#1a1a1a" letter-spacing="0.3" stroke="#1a1a1a" stroke-width="0.22">7</text>
<text x="222.20" y="694.57" font-size="9.4" text-anchor="end" fill="#1a1a1a" letter-spacing="0.3" stroke="#1a1a1a" stroke-width="0.22">37</text>
<text x="279.00" y="694.57" font-size="9.4" text-anchor="end" fill="#1a1a1a" letter-spacing="0.3" stroke="#1a1a1a" stroke-width="0.22">0.19</text>
<text x="280.40" y="694.57" font-size="9.4" fill="#1a1a1a" textLength="50.4" lengthAdjust="spacing" stroke="#1a1a1a" stroke-width="0.22">[0.08; 0.35]</text>
<rect x="381.12" y="687.17" width="9.00" height="9.00" fill="#cdcdcd"/>
<line x1="369.34" y1="691.67" x2="409.30" y2="691.67" stroke="#000" stroke-width="1.3"/>
<line x1="385.62" y1="689.77" x2="385.62" y2="693.57" stroke="#000" stroke-width="1.4"/>
<text x="10.60" y="707.10" font-size="9.6" fill="#1a1a1a" textLength="123.55" lengthAdjust="spacing" stroke="#1a1a1a" stroke-width="0.22">Olszewski, 2023 (DLBCL [1])</text>
<text x="192.60" y="707.10" font-size="9.4" text-anchor="end" fill="#1a1a1a" letter-spacing="0.3" stroke="#1a1a1a" stroke-width="0.22">30</text>
<text x="222.20" y="707.10" font-size="9.4" text-anchor="end" fill="#1a1a1a" letter-spacing="0.3" stroke="#1a1a1a" stroke-width="0.22">108</text>
<text x="279.00" y="707.10" font-size="9.4" text-anchor="end" fill="#1a1a1a" letter-spacing="0.3" stroke="#1a1a1a" stroke-width="0.22">0.28</text>
<text x="280.40" y="707.10" font-size="9.4" fill="#1a1a1a" textLength="50.4" lengthAdjust="spacing" stroke="#1a1a1a" stroke-width="0.22">[0.20; 0.37]</text>
<rect x="394.44" y="699.70" width="9.00" height="9.00" fill="#cdcdcd"/>
<line x1="387.10" y1="704.20" x2="412.26" y2="704.20" stroke="#000" stroke-width="1.3"/>
<line x1="398.94" y1="702.30" x2="398.94" y2="706.10" stroke="#000" stroke-width="1.4"/>
<text x="10.60" y="719.62" font-size="9.6" fill="#1a1a1a" textLength="123.65" lengthAdjust="spacing" stroke="#1a1a1a" stroke-width="0.22">Olszewski, 2023 (DLBCL [2])</text>
<text x="192.60" y="719.62" font-size="9.4" text-anchor="end" fill="#1a1a1a" letter-spacing="0.3" stroke="#1a1a1a" stroke-width="0.22">26</text>
<text x="222.20" y="719.62" font-size="9.4" text-anchor="end" fill="#1a1a1a" letter-spacing="0.3" stroke="#1a1a1a" stroke-width="0.22">40</text>
<text x="279.00" y="719.62" font-size="9.4" text-anchor="end" fill="#1a1a1a" letter-spacing="0.3" stroke="#1a1a1a" stroke-width="0.22">0.65</text>
<text x="280.40" y="719.62" font-size="9.4" fill="#1a1a1a" textLength="50.4" lengthAdjust="spacing" stroke="#1a1a1a" stroke-width="0.22">[0.48; 0.79]</text>
<rect x="449.20" y="712.23" width="9.00" height="9.00" fill="#cdcdcd"/>
<line x1="428.54" y1="716.73" x2="474.42" y2="716.73" stroke="#000" stroke-width="1.3"/>
<line x1="453.70" y1="714.83" x2="453.70" y2="718.62" stroke="#000" stroke-width="1.4"/>
<text x="10.30" y="732.15" font-size="9.6" font-weight="bold" fill="#19385f" textLength="102.60" lengthAdjust="spacing" stroke="#19385f" stroke-width="0.15">Common effect model</text>
<text x="222.20" y="732.15" font-size="9.6" font-weight="bold" text-anchor="end" fill="#19385f" stroke="#19385f" stroke-width="0.15">1030</text>
<text x="279.00" y="732.15" font-size="9.6" font-weight="bold" text-anchor="end" fill="#19385f" letter-spacing="0.2" stroke="#19385f" stroke-width="0.15">0.31</text>
<text x="280.40" y="732.15" font-size="9.6" font-weight="bold" fill="#19385f" textLength="50.4" lengthAdjust="spacing" stroke="#19385f" stroke-width="0.15">[0.27; 0.34]</text>
<text x="10.30" y="744.67" font-size="9.6" font-weight="bold" fill="#19385f" textLength="104.90" lengthAdjust="spacing" stroke="#19385f" stroke-width="0.15">Random effects model</text>
<text x="279.00" y="744.67" font-size="9.6" font-weight="bold" text-anchor="end" fill="#19385f" letter-spacing="0.2" stroke="#19385f" stroke-width="0.15">0.32</text>
<text x="280.40" y="744.67" font-size="9.6" font-weight="bold" fill="#19385f" textLength="50.4" lengthAdjust="spacing" stroke="#19385f" stroke-width="0.15">[0.24; 0.41]</text>
<text x="10.60" y="758.70" font-size="9.3" fill="#36527a" letter-spacing="0.06" stroke="#36527a" stroke-width="0.22">Heterogeneity: <tspan font-style="italic" stroke-width="0.1">I</tspan><tspan font-size="6.4" dx="0.5" dy="-3.9">2</tspan><tspan dy="3.9"> </tspan><tspan font-size="11.0" dy="0.5" stroke-width="0.05">=</tspan><tspan dy="-0.5"> 77%, τ</tspan><tspan font-size="6.4" dx="0.6" dy="-3.9">2</tspan><tspan dy="3.9"> </tspan><tspan font-size="11.0" dy="0.5" stroke-width="0.05">=</tspan><tspan dy="-0.5"> 0.3189, </tspan><tspan font-style="italic">P</tspan> &lt; .01</text>
<polygon points="397.46,728.05 403.38,724.65 407.82,728.05 403.38,731.45" fill="#d8d8d8" stroke="#000" stroke-width="1.3" stroke-linejoin="miter"/>
<polygon points="393.02,740.57 404.86,736.97 418.18,740.57 404.86,744.17" fill="#d0d0d0" stroke="#000" stroke-width="1.3" stroke-linejoin="miter"/>
<text x="10.30" y="782.25" font-size="9.6" font-weight="bold" fill="#19385f" textLength="122.70" lengthAdjust="spacing" stroke="#19385f" stroke-width="0.15">Non-Combination Therapy</text>
<text x="10.60" y="794.77" font-size="9.6" fill="#1a1a1a" textLength="61.05" lengthAdjust="spacing" stroke="#1a1a1a" stroke-width="0.22">Bannerji, 2022</text>
<text x="192.60" y="794.77" font-size="9.4" text-anchor="end" fill="#1a1a1a" letter-spacing="0.3" stroke="#1a1a1a" stroke-width="0.22">28</text>
<text x="222.20" y="794.77" font-size="9.4" text-anchor="end" fill="#1a1a1a" letter-spacing="0.3" stroke="#1a1a1a" stroke-width="0.22">145</text>
<text x="279.00" y="794.77" font-size="9.4" text-anchor="end" fill="#1a1a1a" letter-spacing="0.3" stroke="#1a1a1a" stroke-width="0.22">0.19</text>
<text x="280.40" y="794.77" font-size="9.4" fill="#1a1a1a" textLength="50.4" lengthAdjust="spacing" stroke="#1a1a1a" stroke-width="0.22">[0.13; 0.27]</text>
<rect x="381.12" y="787.38" width="9.00" height="9.00" fill="#cdcdcd"/>
<line x1="376.74" y1="791.88" x2="397.46" y2="791.88" stroke="#000" stroke-width="1.3"/>
<line x1="385.62" y1="789.98" x2="385.62" y2="793.77" stroke="#000" stroke-width="1.4"/>
<text x="10.60" y="807.30" font-size="9.6" fill="#1a1a1a" textLength="57.75" lengthAdjust="spacing" stroke="#1a1a1a" stroke-width="0.22">Bartlett, 2023</text>
<text x="192.60" y="807.30" font-size="9.4" text-anchor="end" fill="#1a1a1a" letter-spacing="0.3" stroke="#1a1a1a" stroke-width="0.22">19</text>
<text x="222.20" y="807.30" font-size="9.4" text-anchor="end" fill="#1a1a1a" letter-spacing="0.3" stroke="#1a1a1a" stroke-width="0.22">88</text>
<text x="279.00" y="807.30" font-size="9.4" text-anchor="end" fill="#1a1a1a" letter-spacing="0.3" stroke="#1a1a1a" stroke-width="0.22">0.22</text>
<text x="280.40" y="807.30" font-size="9.4" fill="#1a1a1a" textLength="50.4" lengthAdjust="spacing" stroke="#1a1a1a" stroke-width="0.22">[0.14; 0.32]</text>
<rect x="385.56" y="799.90" width="9.00" height="9.00" fill="#cdcdcd"/>
<line x1="378.22" y1="804.40" x2="404.86" y2="804.40" stroke="#000" stroke-width="1.3"/>
<line x1="390.06" y1="802.50" x2="390.06" y2="806.30" stroke="#000" stroke-width="1.4"/>
<text x="10.60" y="819.83" font-size="9.6" fill="#1a1a1a" textLength="73.65" lengthAdjust="spacing" stroke="#1a1a1a" stroke-width="0.22">Budde, 2022 (FL)</text>
<text x="192.60" y="819.83" font-size="9.4" text-anchor="end" fill="#1a1a1a" letter-spacing="0.3" stroke="#1a1a1a" stroke-width="0.22">24</text>
<text x="222.20" y="819.83" font-size="9.4" text-anchor="end" fill="#1a1a1a" letter-spacing="0.3" stroke="#1a1a1a" stroke-width="0.22">90</text>
<text x="279.00" y="819.83" font-size="9.4" text-anchor="end" fill="#1a1a1a" letter-spacing="0.3" stroke="#1a1a1a" stroke-width="0.22">0.27</text>
<text x="280.40" y="819.83" font-size="9.4" fill="#1a1a1a" textLength="50.4" lengthAdjust="spacing" stroke="#1a1a1a" stroke-width="0.22">[0.18; 0.37]</text>
<rect x="392.96" y="812.43" width="9.00" height="9.00" fill="#cdcdcd"/>
<line x1="384.14" y1="816.93" x2="412.26" y2="816.93" stroke="#000" stroke-width="1.3"/>
<line x1="397.46" y1="815.03" x2="397.46" y2="818.83" stroke="#000" stroke-width="1.4"/>
<text x="10.60" y="832.35" font-size="9.6" fill="#1a1a1a" textLength="82.75" lengthAdjust="spacing" stroke="#1a1a1a" stroke-width="0.22">Budde, 2022 (NHL)</text>
<text x="192.60" y="832.35" font-size="9.4" text-anchor="end" fill="#1a1a1a" letter-spacing="0.3" stroke="#1a1a1a" stroke-width="0.22">50</text>
<text x="222.20" y="832.35" font-size="9.4" text-anchor="end" fill="#1a1a1a" letter-spacing="0.3" stroke="#1a1a1a" stroke-width="0.22">197</text>
<text x="279.00" y="832.35" font-size="9.4" text-anchor="end" fill="#1a1a1a" letter-spacing="0.3" stroke="#1a1a1a" stroke-width="0.22">0.25</text>
<text x="280.40" y="832.35" font-size="9.4" fill="#1a1a1a" textLength="50.4" lengthAdjust="spacing" stroke="#1a1a1a" stroke-width="0.22">[0.19; 0.32]</text>
<rect x="390.00" y="824.95" width="9.00" height="9.00" fill="#cdcdcd"/>
<line x1="385.62" y1="829.45" x2="404.86" y2="829.45" stroke="#000" stroke-width="1.3"/>
<line x1="394.50" y1="827.55" x2="394.50" y2="831.35" stroke="#000" stroke-width="1.4"/>
<text x="10.60" y="844.88" font-size="9.6" fill="#1a1a1a" textLength="51.05" lengthAdjust="spacing" stroke="#1a1a1a" stroke-width="0.22">Falchi, 2023</text>
<text x="192.60" y="844.88" font-size="9.4" text-anchor="end" fill="#1a1a1a" letter-spacing="0.3" stroke="#1a1a1a" stroke-width="0.22">4</text>
<text x="222.20" y="844.88" font-size="9.4" text-anchor="end" fill="#1a1a1a" letter-spacing="0.3" stroke="#1a1a1a" stroke-width="0.22">39</text>
<text x="279.00" y="844.88" font-size="9.4" text-anchor="end" fill="#1a1a1a" letter-spacing="0.3" stroke="#1a1a1a" stroke-width="0.22">0.10</text>
<text x="280.40" y="844.88" font-size="9.4" fill="#1a1a1a" textLength="50.4" lengthAdjust="spacing" stroke="#1a1a1a" stroke-width="0.22">[0.03; 0.24]</text>
<rect x="367.80" y="837.48" width="9.00" height="9.00" fill="#cdcdcd"/>
<line x1="361.94" y1="841.98" x2="393.02" y2="841.98" stroke="#000" stroke-width="1.3"/>
<line x1="372.30" y1="840.08" x2="372.30" y2="843.88" stroke="#000" stroke-width="1.4"/>
<text x="10.60" y="857.40" font-size="9.6" fill="#1a1a1a" textLength="97.55" lengthAdjust="spacing" stroke="#1a1a1a" stroke-width="0.22">Hutchings, 2021 (NHL)</text>
<text x="192.60" y="857.40" font-size="9.4" text-anchor="end" fill="#1a1a1a" letter-spacing="0.3" stroke="#1a1a1a" stroke-width="0.22">10</text>
<text x="222.20" y="857.40" font-size="9.4" text-anchor="end" fill="#1a1a1a" letter-spacing="0.3" stroke="#1a1a1a" stroke-width="0.22">68</text>
<text x="279.00" y="857.40" font-size="9.4" text-anchor="end" fill="#1a1a1a" letter-spacing="0.3" stroke="#1a1a1a" stroke-width="0.22">0.15</text>
<text x="280.40" y="857.40" font-size="9.4" fill="#1a1a1a" textLength="50.4" lengthAdjust="spacing" stroke="#1a1a1a" stroke-width="0.22">[0.07; 0.25]</text>
<rect x="375.20" y="850.00" width="9.00" height="9.00" fill="#cdcdcd"/>
<line x1="367.86" y1="854.50" x2="394.50" y2="854.50" stroke="#000" stroke-width="1.3"/>
<line x1="379.70" y1="852.60" x2="379.70" y2="856.40" stroke="#000" stroke-width="1.4"/>
<text x="10.60" y="869.92" font-size="9.6" fill="#1a1a1a" textLength="67.35" lengthAdjust="spacing" stroke="#1a1a1a" stroke-width="0.22">Munakata, 2023</text>
<text x="192.60" y="869.92" font-size="9.4" text-anchor="end" fill="#1a1a1a" letter-spacing="0.3" stroke="#1a1a1a" stroke-width="0.22">9</text>
<text x="222.20" y="869.92" font-size="9.4" text-anchor="end" fill="#1a1a1a" letter-spacing="0.3" stroke="#1a1a1a" stroke-width="0.22">23</text>
<text x="279.00" y="869.92" font-size="9.4" text-anchor="end" fill="#1a1a1a" letter-spacing="0.3" stroke="#1a1a1a" stroke-width="0.22">0.39</text>
<text x="280.40" y="869.92" font-size="9.4" fill="#1a1a1a" textLength="50.4" lengthAdjust="spacing" stroke="#1a1a1a" stroke-width="0.22">[0.20; 0.61]</text>
<rect x="410.72" y="862.52" width="9.00" height="9.00" fill="#cdcdcd"/>
<line x1="387.10" y1="867.02" x2="447.78" y2="867.02" stroke="#000" stroke-width="1.3"/>
<line x1="415.22" y1="865.12" x2="415.22" y2="868.92" stroke="#000" stroke-width="1.4"/>
<text x="10.60" y="882.45" font-size="9.6" fill="#1a1a1a" textLength="43.65" lengthAdjust="spacing" stroke="#1a1a1a" stroke-width="0.22">Nair, 2023</text>
<text x="192.60" y="882.45" font-size="9.4" text-anchor="end" fill="#1a1a1a" letter-spacing="0.3" stroke="#1a1a1a" stroke-width="0.22">2</text>
<text x="222.20" y="882.45" font-size="9.4" text-anchor="end" fill="#1a1a1a" letter-spacing="0.3" stroke="#1a1a1a" stroke-width="0.22">17</text>
<text x="279.00" y="882.45" font-size="9.4" text-anchor="end" fill="#1a1a1a" letter-spacing="0.3" stroke="#1a1a1a" stroke-width="0.22">0.12</text>
<text x="280.40" y="882.45" font-size="9.4" fill="#1a1a1a" textLength="50.4" lengthAdjust="spacing" stroke="#1a1a1a" stroke-width="0.22">[0.01; 0.36]</text>
<rect x="370.76" y="875.05" width="9.00" height="9.00" fill="#cdcdcd"/>
<line x1="358.98" y1="879.55" x2="410.78" y2="879.55" stroke="#000" stroke-width="1.3"/>
<line x1="375.26" y1="877.65" x2="375.26" y2="881.45" stroke="#000" stroke-width="1.4"/>
<text x="10.60" y="894.97" font-size="9.6" fill="#1a1a1a" textLength="49.05" lengthAdjust="spacing" stroke="#1a1a1a" stroke-width="0.22">Song, 2024</text>
<text x="192.60" y="894.97" font-size="9.4" text-anchor="end" fill="#1a1a1a" letter-spacing="0.3" stroke="#1a1a1a" stroke-width="0.22">9</text>
<text x="222.20" y="894.97" font-size="9.4" text-anchor="end" fill="#1a1a1a" letter-spacing="0.3" stroke="#1a1a1a" stroke-width="0.22">30</text>
<text x="279.00" y="894.97" font-size="9.4" text-anchor="end" fill="#1a1a1a" letter-spacing="0.3" stroke="#1a1a1a" stroke-width="0.22">0.30</text>
<text x="280.40" y="894.97" font-size="9.4" fill="#1a1a1a" textLength="50.4" lengthAdjust="spacing" stroke="#1a1a1a" stroke-width="0.22">[0.15; 0.49]</text>
<rect x="397.40" y="887.57" width="9.00" height="9.00" fill="#cdcdcd"/>
<line x1="379.70" y1="892.07" x2="430.02" y2="892.07" stroke="#000" stroke-width="1.3"/>
<line x1="401.90" y1="890.17" x2="401.90" y2="893.97" stroke="#000" stroke-width="1.4"/>
<text x="10.60" y="907.50" font-size="9.6" fill="#1a1a1a" textLength="75.25" lengthAdjust="spacing" stroke="#1a1a1a" stroke-width="0.22">Thieblemont 2023</text>
<text x="192.60" y="907.50" font-size="9.4" text-anchor="end" fill="#1a1a1a" letter-spacing="0.3" stroke="#1a1a1a" stroke-width="0.22">23</text>
<text x="222.20" y="907.50" font-size="9.4" text-anchor="end" fill="#1a1a1a" letter-spacing="0.3" stroke="#1a1a1a" stroke-width="0.22">157</text>
<text x="279.00" y="907.50" font-size="9.4" text-anchor="end" fill="#1a1a1a" letter-spacing="0.3" stroke="#1a1a1a" stroke-width="0.22">0.15</text>
<text x="280.40" y="907.50" font-size="9.4" fill="#1a1a1a" textLength="50.4" lengthAdjust="spacing" stroke="#1a1a1a" stroke-width="0.22">[0.10; 0.21]</text>
<rect x="375.20" y="900.10" width="9.00" height="9.00" fill="#cdcdcd"/>
<line x1="372.30" y1="904.60" x2="388.58" y2="904.60" stroke="#000" stroke-width="1.3"/>
<line x1="379.70" y1="902.70" x2="379.70" y2="906.50" stroke="#000" stroke-width="1.4"/>
<text x="10.30" y="920.02" font-size="9.6" font-weight="bold" fill="#19385f" textLength="102.60" lengthAdjust="spacing" stroke="#19385f" stroke-width="0.15">Common effect model</text>
<text x="222.20" y="920.02" font-size="9.6" font-weight="bold" text-anchor="end" fill="#19385f" stroke="#19385f" stroke-width="0.15">1162</text>
<text x="279.00" y="920.02" font-size="9.6" font-weight="bold" text-anchor="end" fill="#19385f" letter-spacing="0.2" stroke="#19385f" stroke-width="0.15">0.21</text>
<text x="280.40" y="920.02" font-size="9.6" font-weight="bold" fill="#19385f" textLength="50.4" lengthAdjust="spacing" stroke="#19385f" stroke-width="0.15">[0.18; 0.24]</text>
<text x="10.30" y="932.55" font-size="9.6" font-weight="bold" fill="#19385f" textLength="104.90" lengthAdjust="spacing" stroke="#19385f" stroke-width="0.15">Random effects model</text>
<text x="279.00" y="932.55" font-size="9.6" font-weight="bold" text-anchor="end" fill="#19385f" letter-spacing="0.2" stroke="#19385f" stroke-width="0.15">0.21</text>
<text x="280.40" y="932.55" font-size="9.6" font-weight="bold" fill="#19385f" textLength="50.4" lengthAdjust="spacing" stroke="#19385f" stroke-width="0.15">[0.17; 0.25]</text>
<text x="10.60" y="946.58" font-size="9.3" fill="#36527a" letter-spacing="0.06" stroke="#36527a" stroke-width="0.22">Heterogeneity: <tspan font-style="italic" stroke-width="0.1">I</tspan><tspan font-size="6.4" dx="0.5" dy="-3.9">2</tspan><tspan dy="3.9"> </tspan><tspan font-size="11.0" dy="0.5" stroke-width="0.05">=</tspan><tspan dy="-0.5"> 52%, τ</tspan><tspan font-size="6.4" dx="0.6" dy="-3.9">2</tspan><tspan dy="3.9"> </tspan><tspan font-size="11.0" dy="0.5" stroke-width="0.05">=</tspan><tspan dy="-0.5"> 0.0591, </tspan><tspan font-style="italic">P</tspan> = .03</text>
<polygon points="384.14,915.92 388.58,912.52 393.02,915.92 388.58,919.32" fill="#d8d8d8" stroke="#000" stroke-width="1.3" stroke-linejoin="miter"/>
<polygon points="382.66,928.45 388.58,924.85 394.50,928.45 388.58,932.05" fill="#d0d0d0" stroke="#000" stroke-width="1.3" stroke-linejoin="miter"/>
<text x="10.30" y="969.12" font-size="9.6" font-weight="bold" fill="#000" textLength="102.60" lengthAdjust="spacing" stroke="#000" stroke-width="0.15">Common effect model</text>
<text x="222.20" y="969.12" font-size="9.6" font-weight="bold" text-anchor="end" fill="#000" stroke="#000" stroke-width="0.15">1594</text>
<text x="279.00" y="969.12" font-size="9.6" font-weight="bold" text-anchor="end" fill="#000" letter-spacing="0.2" stroke="#000" stroke-width="0.15">0.25</text>
<text x="280.40" y="969.12" font-size="9.6" font-weight="bold" fill="#000" textLength="50.4" lengthAdjust="spacing" stroke="#000" stroke-width="0.15">[0.23; 0.28]</text>
<text x="10.30" y="981.65" font-size="9.6" font-weight="bold" fill="#000" textLength="104.90" lengthAdjust="spacing" stroke="#000" stroke-width="0.15">Random effects model</text>
<text x="279.00" y="981.65" font-size="9.6" font-weight="bold" text-anchor="end" fill="#000" letter-spacing="0.2" stroke="#000" stroke-width="0.15">0.26</text>
<text x="280.40" y="981.65" font-size="9.6" font-weight="bold" fill="#000" textLength="50.4" lengthAdjust="spacing" stroke="#000" stroke-width="0.15">[0.21; 0.31]</text>
<polygon points="391.54,965.62 394.50,962.22 398.94,965.62 394.50,969.02" fill="#ececec" stroke="#000" stroke-width="1.3" stroke-linejoin="miter"/>
<polygon points="388.58,978.15 395.98,974.55 403.38,978.15 395.98,981.75" fill="#d0d0d0" stroke="#000" stroke-width="1.3" stroke-linejoin="miter"/>
<line x1="352.90" y1="984.20" x2="509.80" y2="984.20" stroke="#000" stroke-width="1.5"/>
<line x1="357.50" y1="984.20" x2="357.50" y2="988.50" stroke="#000" stroke-width="1.3"/>
<text x="357.50" y="1001.90" font-size="8.8" text-anchor="middle" fill="#111" letter-spacing="0.3" stroke="#111" stroke-width="0.2">0</text>
<line x1="387.10" y1="984.20" x2="387.10" y2="988.50" stroke="#000" stroke-width="1.3"/>
<text x="387.10" y="1001.90" font-size="8.8" text-anchor="middle" fill="#111" letter-spacing="0.3" stroke="#111" stroke-width="0.2">0.2</text>
<line x1="416.70" y1="984.20" x2="416.70" y2="988.50" stroke="#000" stroke-width="1.3"/>
<text x="416.70" y="1001.90" font-size="8.8" text-anchor="middle" fill="#111" letter-spacing="0.3" stroke="#111" stroke-width="0.2">0.4</text>
<line x1="446.30" y1="984.20" x2="446.30" y2="988.50" stroke="#000" stroke-width="1.3"/>
<text x="446.30" y="1001.90" font-size="8.8" text-anchor="middle" fill="#111" letter-spacing="0.3" stroke="#111" stroke-width="0.2">0.6</text>
<line x1="475.90" y1="984.20" x2="475.90" y2="988.50" stroke="#000" stroke-width="1.3"/>
<text x="475.90" y="1001.90" font-size="8.8" text-anchor="middle" fill="#111" letter-spacing="0.3" stroke="#111" stroke-width="0.2">0.8</text>
<line x1="505.50" y1="984.20" x2="505.50" y2="988.50" stroke="#000" stroke-width="1.3"/>
<text x="505.50" y="1001.90" font-size="8.8" text-anchor="middle" fill="#111" letter-spacing="0.3" stroke="#111" stroke-width="0.2">1</text>
<text transform="translate(431.50,1019.20) scale(0.78,1)" x="0" y="0" font-size="10.8" stroke="#111" stroke-width="0.25" text-anchor="middle" fill="#111">Prevalence</text>
<text x="10.60" y="1019.40" font-size="9.3" fill="#1a1a1a" letter-spacing="0.06" stroke="#1a1a1a" stroke-width="0.22">Heterogeneity: <tspan font-style="italic" stroke-width="0.1">I</tspan><tspan font-size="6.4" dx="0.5" dy="-3.9">2</tspan><tspan dy="3.9"> </tspan><tspan font-size="11.0" dy="0.5" stroke-width="0.05">=</tspan><tspan dy="-0.5"> 75%, τ</tspan><tspan font-size="6.4" dx="0.6" dy="-3.9">2</tspan><tspan dy="3.9"> </tspan><tspan font-size="11.0" dy="0.5" stroke-width="0.05">=</tspan><tspan dy="-0.5"> 0.2916, </tspan><tspan font-style="italic">P</tspan> &lt; .01</text>
<text x="10.60" y="1030.70" font-size="9.3" fill="#1a1a1a" letter-spacing="0.04" stroke="#1a1a1a" stroke-width="0.22">Test for subgroup differences (common effect):<tspan dx="3.2" font-style="italic">χ</tspan><tspan font-size="6.8" dx="1.2" dy="-4.2">2</tspan><tspan font-size="6.8" dx="-3.8" dy="6.6">1</tspan><tspan dy="-2.4"> </tspan><tspan font-size="11.0" dy="0.5" stroke-width="0.05">=</tspan><tspan dy="-0.5"> 20.03, df </tspan><tspan font-size="11.0" dy="0.5" stroke-width="0.05">=</tspan><tspan dy="-0.5"> 1 (</tspan><tspan font-style="italic">P</tspan> &lt; .01)</text>
<text x="10.60" y="1043.90" font-size="9.3" fill="#1a1a1a" letter-spacing="0.04" stroke="#1a1a1a" stroke-width="0.22">Test for subgroup differences (random effects):<tspan dx="3.2" font-style="italic">χ</tspan><tspan font-size="6.8" dx="1.2" dy="-4.2">2</tspan><tspan font-size="6.8" dx="-3.8" dy="6.6">1</tspan><tspan dy="-2.4"> </tspan><tspan font-size="11.0" dy="0.5" stroke-width="0.05">=</tspan><tspan dy="-0.5"> 5.92, df </tspan><tspan font-size="11.0" dy="0.5" stroke-width="0.05">=</tspan><tspan dy="-0.5"> 1 (</tspan><tspan font-style="italic">P</tspan> = .01)</text>
<rect x="0.5" y="0.5" width="519" height="1060" fill="none" stroke="#262626" stroke-width="1"/>
</svg>
</body></html>
